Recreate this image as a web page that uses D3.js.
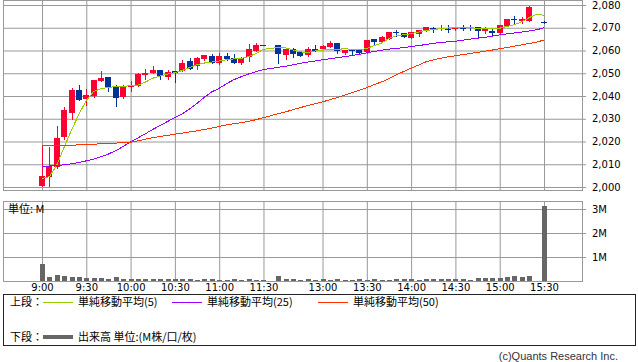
<!DOCTYPE html>
<html>
<head>
<meta charset="utf-8">
<script src="https://cdn.jsdelivr.net/npm/d3@7"></script>
<style>
  body { margin: 0; background: #fff; }
  svg { display: block; }
  .num { font-family: "DejaVu Sans", sans-serif; font-size: 10px; fill: #000; }
  .jp { font-family: "Noto Sans CJK JP", sans-serif; font-size: 11px; fill: #000; }
</style>
</head>
<body>
<svg id="chart" width="638" height="362"></svg>
<script>
const svg = d3.select('#chart')

// 5 min slots, '' = lunch break
const times = [
  '9:00','9:05','9:10','9:15','9:20','9:25','9:30','9:35','9:40','9:45','9:50','9:55',
  '10:00','10:05','10:10','10:15','10:20','10:25','10:30','10:35','10:40','10:45','10:50','10:55',
  '11:00','11:05','11:10','11:15','11:20','11:25','11:30',
  '',
  '12:30','12:35','12:40','12:45','12:50','12:55',
  '13:00','13:05','13:10','13:15','13:20','13:25','13:30','13:35','13:40','13:45','13:50','13:55',
  '14:00','14:05','14:10','14:15','14:20','14:25','14:30','14:35','14:40','14:45','14:50','14:55',
  '15:00','15:05','15:10','15:15','15:20','15:25','15:30'
]
const tickTimes = ['9:00','9:30','10:00','10:30','11:00','11:30','13:00','13:30','14:00','14:30','15:00','15:30']
const priceTicks = [2000, 2010, 2020, 2030, 2040, 2050, 2060, 2070, 2080]
const volTicks = [1, 2, 3]

const open = [
  2000.6,2004.5,2009.0,2022.0,2032.7,2042.6,2038.7,2040.0,2046.7,2048.4,2044.4,2039.4,
  2043.8,2044.4,2049.4,2050.1,2051.4,2048.5,2051.0,2051.0,2055.4,2053.4,2056.3,2057.6,
  2054.4,2057.6,2056.8,2054.4,2057.0,2059.9,2062.5,
  null,
  2062.4,2058.0,2060.5,2059.2,2058.0,2060.5,
  2060.7,2061.7,2063.2,2058.7,2060.5,2060.2,2059.2,2065.1,2063.9,2065.1,2068.0,2067.7,
  2065.6,2067.1,2068.6,2069.8,2069.3,2069.6,2069.3,2070.1,2070.3,2070.2,2068.6,2068.6,
  2067.6,2070.9,2073.9,2073.0,2073.0,null,2072.5
]
const high = [
  2018.3,2017.5,2027.0,2035.3,2043.6,2044.8,2042.9,2047.0,2051.0,2048.4,2044.8,2044.8,
  2046.6,2050.3,2051.9,2053.0,2051.4,2051.4,2051.0,2055.8,2056.8,2057.0,2058.1,2058.3,
  2058.7,2058.7,2058.5,2057.0,2062.9,2063.4,2062.5,
  null,
  2062.4,2060.5,2061.2,2059.2,2061.7,2062.4,
  2062.3,2064.2,2063.2,2060.4,2060.5,2060.3,2064.8,2065.1,2066.2,2068.1,2069.0,2067.8,
  2068.2,2069.1,2070.3,2070.2,2071.2,2071.2,2070.3,2071.2,2071.2,2070.3,2070.2,2069.3,
  2071.3,2074.0,2075.2,2074.9,2079.6,null,2073.0
]
const low = [
  2000.4,2000.5,2008.5,2021.0,2029.7,2038.4,2035.9,2039.5,2046.7,2042.3,2035.6,2039.0,
  2042.3,2044.2,2047.5,2050.0,2047.3,2047.3,2046.3,2050.8,2052.0,2051.7,2056.0,2054.4,
  2054.2,2056.0,2054.4,2054.2,2055.5,2059.7,2062.3,
  null,
  2054.6,2056.3,2057.3,2057.5,2057.8,2059.8,
  2060.5,2061.5,2059.0,2058.5,2058.5,2058.3,2059.0,2062.9,2063.8,2065.0,2066.5,2065.9,
  2065.4,2066.5,2068.5,2068.3,2069.0,2068.3,2069.2,2069.0,2069.0,2066.1,2067.6,2066.5,
  2067.5,2070.8,2072.2,2072.2,2072.9,null,2072.0
]
const close = [
  2004.8,2009.2,2021.5,2034.0,2042.6,2038.4,2040.3,2047.0,2048.0,2044.1,2039.3,2044.4,
  2044.7,2049.7,2050.3,2051.4,2048.8,2050.6,2050.3,2054.6,2052.0,2056.8,2058.1,2054.4,
  2057.6,2056.3,2054.4,2056.8,2060.7,2062.4,2062.3,
  null,
  2058.5,2060.5,2058.5,2057.7,2060.5,2059.9,
  2062.1,2063.2,2059.9,2060.2,2059.8,2058.7,2064.6,2063.9,2066.1,2068.0,2067.6,2066.1,
  2068.0,2069.0,2070.2,2069.3,2070.0,2069.3,2070.2,2069.9,2070.1,2068.6,2069.3,2067.6,
  2071.2,2073.8,2073.7,2073.8,2079.3,null,2072.4
]
const volume = [
  0.71,0.17,0.25,0.21,0.17,0.17,0.13,0.13,0.13,0.08,0.17,0.08,
  0.08,0.08,0.08,0.08,0.08,0.08,0.08,0.08,0.08,0.03,0.08,0.08,
  0.03,0.03,0.08,0.03,0.08,0.03,0.03,
  null,
  0.21,0.10,0.10,0.03,0.08,0.03,
  0.08,0.03,0.08,0.03,0.03,0.08,0.03,0.08,0.03,0.03,0.08,0.08,
  0.08,0.03,0.08,0.08,0.08,0.08,0.08,0.08,0.03,0.13,0.13,0.13,
  0.13,0.17,0.21,0.17,0.21,null,3.12
]
const ma5 = [
  2003.8,2004.5,2009.6,2017.5,2025.0,2032.0,2038.0,2042.0,2043.2,2043.8,2044.1,2044.3,
  2044.5,2044.8,2046.1,2047.8,2048.8,2049.6,2050.3,2051.2,2052.5,2053.8,2054.5,2054.9,
  2055.4,2055.9,2056.3,2056.5,2057.3,2058.7,2060.5,
  null,
  2061.3,2061.2,2060.2,2059.4,2059.1,2059.8,
  2060.2,2060.4,2060.6,2060.7,2060.6,2060.3,2060.9,2062.2,2063.3,2065.3,2066.4,2066.9,
  2067.4,2068.1,2068.8,2069.2,2069.6,2069.9,2070.0,2070.0,2070.0,2069.8,2069.7,2069.6,
  2069.8,2070.6,2071.4,2072.6,2074.5,2075.9,2075.5
]
const ma25 = [
  2009.2,2009.2,2009.4,2009.8,2010.2,2010.8,2011.5,2012.3,2013.3,2014.5,2016.0,2017.8,
  2019.8,2021.6,2023.4,2025.3,2027.0,2028.8,2030.5,2032.2,2034.3,2036.8,2039.5,2041.8,
  2043.4,2045.4,2047.2,2048.5,2049.7,2050.7,2051.6,
  null,
  2052.6,2053.1,2053.7,2054.4,2054.9,2055.4,
  2055.9,2056.4,2056.8,2057.3,2057.8,2058.3,2059.0,2059.6,2060.1,2060.6,2060.9,2061.3,
  2061.7,2062.2,2062.6,2063.2,2063.5,2063.8,2064.1,2064.5,2065.0,2065.4,2065.8,2066.3,
  2066.9,2067.3,2067.7,2068.1,2068.6,2069.1,2070.0
]
const ma50 = [
  2018.3,2018.2,2018.2,2018.3,2018.4,2018.5,2018.6,2018.8,2019.0,2019.2,2019.3,2019.5,
  2019.7,2020.3,2021.0,2021.7,2022.2,2022.7,2023.2,2023.7,2024.2,2024.7,2025.3,2025.9,
  2026.6,2027.3,2027.8,2028.3,2028.9,2029.6,2030.5,
  null,
  2032.2,2033.0,2034.0,2034.9,2035.8,2036.6,
  2037.4,2038.4,2039.3,2040.4,2041.5,2042.5,2043.7,2045.0,2046.2,2047.6,2049.3,2050.8,
  2052.2,2053.6,2055.0,2055.9,2056.6,2057.2,2057.7,2058.2,2058.7,2059.2,2059.7,2060.2,
  2060.8,2061.3,2061.9,2062.5,2063.1,2063.7,2064.6
]

const maNames = ['単純移動平均(5)', '単純移動平均(25)', '単純移動平均(50)']
const maColors = ['#99cc00', '#9900ff', '#ff3300']
const upColor = '#ff0033'
const downColor = '#003399'
const gridColor = '#999'

const frame = {left: 3, right: 582}
const price = {top: 0, bottom: 190}
const vol = {top: 201, bottom: 281}

const x = d3.scalePoint().domain(times).range([42, 544])
const y = d3.scaleLinear().domain([2000, 2080]).range([187, 5])
const vy = d3.scaleLinear().domain([0, 3]).range([281, 209])

const styleGrid = g => {
    g.select('.domain').remove()
    g.selectAll('line').attr('stroke', gridColor)
    g.selectAll('text').attr('class', 'num').attr('fill', '#000')
}

// price panel grid
svg.append('g')
    .attr('transform', `translate(0, ${price.bottom + 1})`)
    .call(d3.axisBottom(x).tickValues(tickTimes).tickSize(-(price.bottom + 1 - price.top)).tickFormat(''))
    .call(styleGrid)

svg.append('g')
    .attr('transform', `translate(${frame.right + 4}, 0)`)
    .call(d3.axisRight(y).tickValues(priceTicks).tickSize(-(frame.right + 4 - frame.left)).tickPadding(6).tickFormat(d3.format(',')))
    .call(styleGrid)

svg.append('rect')
    .attr('x', frame.left + 0.5).attr('y', price.top + 0.5)
    .attr('width', frame.right - frame.left).attr('height', price.bottom - price.top)
    .attr('fill', 'none').attr('stroke', gridColor)

// volume panel grid
svg.append('g')
    .attr('transform', `translate(0, ${vol.bottom + 1})`)
    .call(d3.axisBottom(x).tickValues(tickTimes).tickSize(-(vol.bottom + 1 - vol.top)).tickPadding(2))
    .call(styleGrid)

svg.append('g')
    .attr('transform', `translate(${frame.right + 4}, 0)`)
    .call(d3.axisRight(vy).tickValues(volTicks).tickSize(-(frame.right + 4 - frame.left)).tickPadding(6).tickFormat(d => d + 'M'))
    .call(styleGrid)

svg.append('rect')
    .attr('x', frame.left + 0.5).attr('y', vol.top + 0.5)
    .attr('width', frame.right - frame.left).attr('height', vol.bottom - vol.top)
    .attr('fill', 'none').attr('stroke', gridColor)

svg.append('text').attr('class', 'jp')
    .attr('x', 8).attr('y', 213)
    .text('単位: M')

// candles
const candles = times.map((t, i) => ({t, o: open[i], h: high[i], l: low[i], c: close[i]}))
    .filter(d => d.o != null)
const cx = d => Math.round(x(d.t))

const cg = svg.append('g')
cg.selectAll('.wick').data(candles).enter().append('line')
    .attr('class', 'wick')
    .attr('x1', d => cx(d) + 0.5).attr('x2', d => cx(d) + 0.5)
    .attr('y1', d => Math.round(y(d.h))).attr('y2', d => Math.round(y(d.l)) + 1)
    .attr('stroke', d => d.c >= d.o ? upColor : downColor)

cg.selectAll('.body').data(candles).enter().append('rect')
    .attr('class', 'body')
    .attr('x', d => cx(d) - 3)
    .attr('width', 6)
    .attr('y', d => Math.round(y(Math.max(d.o, d.c))))
    .attr('height', d => Math.max(1, Math.round(y(Math.min(d.o, d.c))) - Math.round(y(Math.max(d.o, d.c)))))
    .attr('fill', d => d.c >= d.o ? upColor : downColor)

// moving averages
const line = d3.line().x(d => x(d[0])).y(d => y(d[1]))
;[ma5, ma25, ma50].forEach((ma, k) => {
    const pts = times.map((t, i) => [t, ma[i]]).filter(d => d[1] != null)
    svg.append('path')
        .attr('d', line(pts))
        .attr('fill', 'none')
        .attr('stroke', maColors[k])
        .attr('stroke-width', 1)
        .attr('shape-rendering', 'crispEdges')
})

// volume
const vols = times.map((t, i) => ({t, v: volume[i]})).filter(d => d.v != null)
svg.append('g').selectAll('rect').data(vols).enter().append('rect')
    .attr('x', d => Math.round(x(d.t)) - 2)
    .attr('width', 5)
    .attr('y', d => Math.min(vol.bottom - 1, Math.round(vy(d.v))))
    .attr('height', d => vol.bottom - Math.min(vol.bottom - 1, Math.round(vy(d.v))))
    .attr('fill', '#666')

// legend
const legend = svg.append('g')
legend.append('rect')
    .attr('x', 3.5).attr('y', 294.5).attr('width', 632).attr('height', 51)
    .attr('fill', 'none').attr('stroke', '#222')

legend.append('text').attr('class', 'jp').attr('x', 10).attr('y', 306).text('上段：')
const legendX = [43, 172, 318]
maNames.forEach((name, k) => {
    legend.append('line')
        .attr('x1', legendX[k]).attr('x2', legendX[k] + 30)
        .attr('y1', 302.5).attr('y2', 302.5)
        .attr('stroke', maColors[k])
    legend.append('text').attr('class', 'jp')
        .attr('x', legendX[k] + 35).attr('y', 306)
        .text(name)
})

legend.append('text').attr('class', 'jp').attr('x', 10).attr('y', 341).text('下段：')
legend.append('line')
    .attr('x1', 43).attr('x2', 73).attr('y1', 337).attr('y2', 337)
    .attr('stroke', '#666').attr('stroke-width', 4)
legend.append('text').attr('class', 'jp').attr('x', 78).attr('y', 341).text('出来高 単位:(M株/口/枚)')

svg.append('text')
    .attr('x', 618).attr('y', 360)
    .attr('text-anchor', 'end')
    .attr('font-family', '"Liberation Sans", Arial, sans-serif')
    .attr('font-size', 11)
    .attr('fill', '#333')
    .text('(c)Quants Research Inc.')
</script>
</body>
</html>
